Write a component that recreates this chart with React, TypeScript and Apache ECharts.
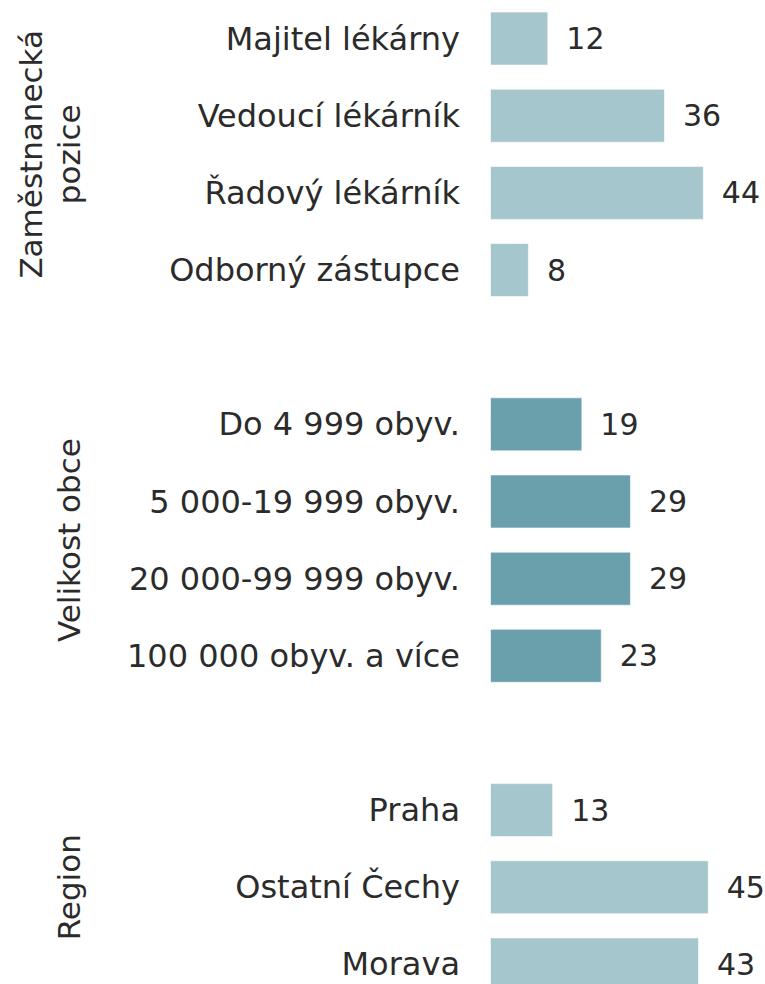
import React, { useEffect, useRef } from "react";
import * as echarts from "echarts";

const positionLabels = ["Majitel lékárny", "Vedoucí lékárník", "Řadový lékárník", "Odborný zástupce"];
const positionValues = [12, 36, 44, 8];
const sizeLabels = ["Do 4 999 obyv.", "5 000-19 999 obyv.", "20 000-99 999 obyv.", "100 000 obyv. a více"];
const sizeValues = [19, 29, 29, 23];
const regionLabels = ["Praha", "Ostatní Čechy", "Morava"];
const regionValues = [13, 45, 43];
const groupTitles = ["Zaměstnanecká\npozice", "Velikost obce", "Region"];

const LIGHT = "#a5c6cc";
const DARK = "#6a9fac";
const TEXT = "#2b2b2b";
const FONT = "'DejaVu Sans', Verdana, sans-serif";

const groups = [
  { labels: positionLabels, values: positionValues, color: LIGHT, title: groupTitles[0] },
  { labels: sizeLabels, values: sizeValues, color: DARK, title: groupTitles[1] },
  { labels: regionLabels, values: regionValues, color: LIGHT, title: groupTitles[2] },
];

export default function App() {
  const ref = useRef<HTMLDivElement>(null);
  useEffect(() => {
    document.body.style.margin = "0";
    document.body.style.overflow = "hidden";
    document.documentElement.style.overflow = "hidden";
    if (!ref.current) return;
    const chart = echarts.init(ref.current, null, { renderer: "svg" });

    const categories: string[] = [];
    const data: any[] = [];
    const ranges: { first: number; last: number; title: string }[] = [];
    groups.forEach((g, gi) => {
      if (gi > 0) {
        categories.push(" ".repeat(gi));
        data.push("-");
      }
      const first = categories.length;
      g.labels.forEach((l, i) => {
        categories.push(l);
        data.push({ value: g.values[i], itemStyle: { color: g.color } });
      });
      ranges.push({ first, last: categories.length - 1, title: g.title });
    });

    chart.setOption({
      animation: false,
      grid: { left: 490, right: 32, top: -2, height: 1005, containLabel: false },
      xAxis: {
        type: "value",
        min: 0,
        max: 50,
        show: false,
      },
      yAxis: {
        type: "category",
        data: categories,
        inverse: true,
        axisLine: { show: false },
        axisTick: { show: false },
        splitLine: { show: false },
        axisLabel: {
          margin: 30,
          fontSize: 32,
          color: TEXT,
          fontFamily: FONT,
          interval: 0,
        },
      },
      series: [
        {
          type: "bar",
          data,
          barWidth: "70%",
          itemStyle: { borderColor: "rgba(255,255,255,0.6)", borderWidth: 1 },
          label: {
            show: true,
            position: "right",
            distance: 18,
            fontSize: 30,
            color: TEXT,
            fontFamily: FONT,
            formatter: "{c}",
          },
        },
      ],
    });

    const graphics = ranges.map((r) => {
      const y1 = chart.convertToPixel({ yAxisIndex: 0 }, r.first) as number;
      const y2 = chart.convertToPixel({ yAxisIndex: 0 }, r.last) as number;
      const multi = r.title.includes("\n");
      return {
        type: "text",
        x: multi ? 50 : 69,
        y: (y1 + y2) / 2,
        rotation: Math.PI / 2,
        style: {
          text: r.title,
          fontSize: 31,
          fontFamily: FONT,
          fill: TEXT,
          align: "center",
          verticalAlign: "middle",
          lineHeight: 38,
        },
      };
    });
    chart.setOption({ graphic: graphics });

    return () => chart.dispose();
  }, []);
  return <div ref={ref} style={{ width: 765, height: 1010 }} />;
}
